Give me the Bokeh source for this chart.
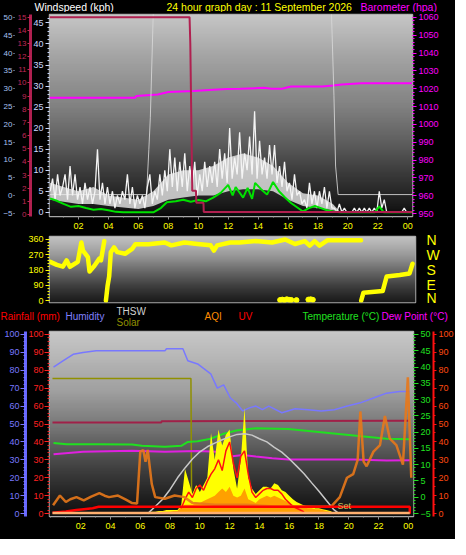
import numpy as np
from bokeh.plotting import figure
from bokeh.models import Range1d, LinearAxis, Label, FixedTicker
from bokeh.layouts import column, row
from bokeh.embed import file_html
from bokeh.resources import INLINE

FONT = "Liberation Sans"
NAN = float("nan")

# ---------------- data ----------------
hour_ticks = [2, 4, 6, 8, 10, 12, 14, 16, 18, 20, 22, 24]
hour_labels = ["02", "04", "06", "08", "10", "12", "14", "16", "18", "20", "22", "00"]

# wind gusts, one value every 10 minutes starting 00:06
gust_kph = [5, 8, 3, 9, 4, 6,   9, 3, 11, 4, 9, 3,   6, 2, 7, 3, 6, 2,   5, 15, 3, 7, 2, 6,
            2, 5, 1, 4, 2, 5,   3, 9, 2, 6, 1, 4,    2, 4, 1, 6, 9, 2,   5, 3, 9, 4, 10, 5,
            15, 6, 13, 5, 12, 6, 14, 5, 11, 6, 12, 4, 9, 5, 12, 6, 11, 7, 12, 6, 15, 8, 14, 7,
            20, 8, 13, 9, 19, 8, 14, 10, 18, 9, 24, 8, 17, 9, 13, 8, 16, 9, 16, 7, 11, 6, 12, 5,
            7, 3, 9, 4, 5, 2,   3, 1, 7, 2, 5, 1,    5, 2, 6, 1, 5, 1,   1, 0, 2, 0, 1, 0,
            0, 0, 1, 0, 1, 0,   1, 0, 1, 0, 1, 0,    5, 1, 3, 0, 0, 0,   0, 0, 0, 0, 1, 0]
gust_t = 0.1 + np.arange(len(gust_kph)) / 6.0

# dense band of the gust trace (lower / upper envelope)
band_t = [0.1, 1, 2, 3, 4, 6, 7, 8, 9, 10, 11, 12, 13, 14, 15, 16, 17, 18, 19, 19.5, 24.3]
band_lo = [3, 2.5, 2, 2, 1.5, 0.8, 1.5, 3, 3.5, 4, 4, 5, 5.5, 5.5, 5, 3, 1.5, 1, 0.5, 0, 0]
band_hi = [7, 6, 5, 6, 4, 3, 5, 9, 10, 10, 11, 13, 14, 13, 11, 7, 4.5, 4, 2, 0, 0]

avg_t = [0.1, 0.5, 1.0, 1.5, 2.0, 2.5, 3.0, 3.5, 4.0, 4.5, 5.0, 7.0, 7.5, 7.9, 8.5, 9.0, 9.5, 10.0,
         10.5, 11.0, 11.5, 12.0, 12.3, 12.5, 13.0, 13.3, 13.6, 13.8, 14.2, 14.6, 15.0, 15.4, 15.8,
         16.2, 16.6, 17.0, 17.4, 17.8, 18.2, 18.6, 19.0, 19.5, 21.8, 22.1, 22.4, 24.3]
avg_kph = [3.3, 2.8, 2.0, 1.3, 1.5, 1.0, 0.6, 0.8, 0.5, 0.1, 0.0, 0.0, 1.0, 2.4, 2.6, 3.0, 2.5, 2.9,
           2.6, 3.5, 4.6, 6.5, 4.0, 6.0, 3.5, 5.8, 3.2, 7.0, 5.5, 4.2, 7.2, 5.0, 3.5,
           2.2, 1.2, 0.2, 1.0, 1.5, 1.0, 0.5, 0.2, 0.0, 0.0, 1.4, 0.0, 0.0]

baro_t = [0.06, 5.8, 5.85, 7.3, 8.0, 9.7, 11.0, 11.9, 12.8, 14.4, 14.9, 15.6, 16.2, 18.3, 19.0, 19.6, 20.9, 24.3]
baro_hpa = [1015.0, 1015.0, 1015.9, 1016.8, 1018.2, 1018.7, 1019.4, 1019.8, 1020.0, 1020.5, 1020.0,
            1020.0, 1021.2, 1021.2, 1021.8, 1022.4, 1023.1, 1023.1]

peak_t = [0.06, 9.42, 9.47, 9.6, 9.85, 9.87, 10.35, 10.37, 24.3]
peak_bft = [15, 15, 13, 1.8, 1.8, 0.9, 0.9, 0.2, 0.2]

aux_t = [0.06, 6.55, 6.7, 6.8, 7.0, 18.9, 19.07, 19.18, 19.35, 24.3]
aux_v = [0.3, 0.3, 13, 22, 52, 52, 28, 8.3, 0.3, 0.3]

dir_t = [-0.05, 0.4, 0.8, 1.05, 1.27, 1.8, 2.04, 2.15, 2.48, 2.59, 2.92, 3.25, 3.36, 3.58, NAN,
         3.69, 3.8, 3.91, 4.02, 4.24, 4.46, 5.0, 5.45, 5.67, 6.55, 7.65, 8.09, 8.97, 9.85, 10.73,
         10.95, 11.17, 12.05, 12.66, 13.76, 14.86, 15.74, 16.4, 17.06, 17.39, 17.72, 18.05, 18.6,
         20.84, NAN, 20.85, 21.0, 22.3, 22.56, 23.44, 24.1, 24.3]
dir_deg = [228, 210, 200, 237, 199, 228, 342, 294, 256, 171, 205, 247, 237, 350, NAN,
           0, 85, 142, 285, 313, 285, 276, 304, 332, 332, 342, 325, 342, 333, 325,
           294, 325, 342, 342, 350, 342, 359, 333, 350, 323, 350, 323, 355,
           355, NAN, 0, 47, 57, 142, 151, 160, 217]
calm_t = [15.4, 15.55, 15.7, 15.85, 16.0, 16.15, 16.5, 17.3, 17.45, 17.6]
calm_deg = [4, 6, 3, 8, 5, 4, 3, 6, 8, 5]
compass = {0: "N", 90: "E", 180: "S", 270: "W", 360: "N"}

hum_t = [0.17, 0.83, 1.49, 2.15, 3.03, 5.0, 7.65, 7.76, 8.86, 9.19, 9.85, 10.73, 11.17, 11.6, 12.05,
         12.44, 12.88, 13.32, 13.76, 14.2, 14.63, 15.51, 16.4, 17.27, 18.15, 19.03, 19.9, 20.78,
         21.66, 22.54, 23.42, 24.1]
hum_pct = [81.7, 85.3, 88.9, 89.9, 90.8, 90.8, 90.8, 92.0, 92.0, 85.3, 83.5, 78.0, 70.0, 71.8, 64.5,
           61.8, 57.3, 59.0, 60.0, 58.0, 60.0, 56.3, 58.5, 58.0, 57.3, 58.0, 60.0, 61.8,
           64.5, 67.2, 68.1, 68.1]

temp_t = [0.17, 1.05, 3.25, 5.45, 6.1, 7.65, 8.75, 9.19, 9.85, 10.73, 11.6, 12.05, 12.44, 13.76,
          15.95, 18.15, 20.35, 22.55, 24.1]
temp_c = [16.7, 16.3, 16.3, 16.2, 15.8, 15.5, 15.8, 17.0, 17.2, 18.0, 19.5, 20.0, 20.5, 21.2,
          21.0, 20.0, 19.0, 18.0, 17.8]

dew_t = [0.17, 2.15, 5.45, 7.65, 9.85, 11.17, 11.56, 12.05, 12.88, 13.76, 14.86, 15.95, 18.15,
         20.35, 22.55, 24.1]
dew_c = [13.2, 14.0, 14.3, 14.0, 14.2, 14.0, 13.5, 12.5, 13.0, 12.5, 12.0, 11.6, 11.6,
         11.6, 11.3, 11.4]

rain_t = [0.1, 7.4, 7.45, 24.1]
rain_mm = [50.9, 50.9, 51.6, 51.8]

solar_max_t = [0.1, 9.4, 9.45]
solar_max = [75.4, 75.4, 0.0]

sun_t = np.arange(6.5, 19.51, 0.25)
solar_rad = [0, 1, 1, 1.5, 1.5, 2, 2, 2, 2,
             5, 25, 18, 11, 16, 12, 16, 20, 45, 30, 47, 38, 44, 47, 25, 14,
             30, 59, 20, 14, 11, 13, 15, 15, 14, 17, 16, 13, 12, 10, 8, 6.5,
             5.5, 4.5, 4, 3.5, 3, 3, 2.5, 2, 1.5, 0.5, 0.5, 0]
solar_base = [0, 0.5, 0.5, 0.5, 1, 1, 1, 1.5, 1.5,
              4, 5, 5, 5, 6, 6, 7, 8, 9, 10, 12, 14, 12, 15, 10, 9,
              10, 14, 8, 7, 6, 8, 9, 10, 9, 10, 9, 8, 7, 6, 5, 4,
              4, 3.5, 3, 3, 2.5, 2.5, 2, 1.5, 1, 0.5, 0, 0]
uv_spike = [NAN, NAN, NAN, NAN, NAN, NAN, NAN, NAN, NAN,
            3, 8, 12, 9, 14, 16, 13, 18, 22, 25, 30, 24, 35, 40, 28, 20,
            32, 35, 22, 12, 9, 11, 13, 14, 14, 13, 13, 11, 8, 6, 4, 3,
            2, 1, NAN, NAN, NAN, NAN, NAN, NAN, NAN, NAN, NAN, NAN]

theo_t = [6.5, 7, 7.5, 8, 8.5, 9, 9.5, 10, 10.5, 11, 11.5, 12, 12.5, 13, 13.5, 14, 14.5, 15, 15.5,
          16, 16.5, 17, 17.5, 18, 18.5, 19, 19.35]
theo_v = [0, 4, 8, 13.5, 20, 25.5, 30.5, 34.5, 37.3, 39.3, 41.2, 42.8, 44.2, 44.6, 43.8, 41.8, 40,
          37, 34.3, 30.6, 26.5, 22.3, 17.3, 12.5, 7.3, 2.2, 0]

aqi_t = [0.14, 0.6, 1.0, 1.3, 1.71, 2.2, 2.7, 3.25, 3.6, 3.9, 4.5, 5.0, 5.45, 5.78, 6.0, 6.2, 6.35,
         6.5, 6.77, 7.0, 7.65, 8.3, 8.97, 9.5, 11.0, 13.0, 15.0, 17.0, 17.7, 18.8, 19.4, 19.88,
         20.3, 20.6, 20.78, 21.0, 21.2, 21.66, 22.1, 22.43, 22.76, 23.2, 23.64, 23.97, 24.2]
aqi_v = [4.7, 10.1, 6.5, 8.0, 9.2, 7.4, 9.5, 11.4, 10.0, 9.2, 10.1, 8.0, 5.9, 5.6, 34.6, 35.5, 29.0,
         35.5, 16.5, 9.2, 8.3, 10.1, 9.2, 6.0, 5.0, 5.0, 4.0, 4.0, 3.8, 3.8, 9.2, 20.0,
         22.0, 30.0, 57.0, 29.0, 26.4, 34.6, 38.2, 54.5, 41.8, 38.2, 27.3, 76.0, 20.0]

uv_t = [0.1, 1.0, 1.7, 2.2, 2.8, 3.2, 24.1, 24.1]
uv_v = [0.5, 1.2, 2.0, 2.5, 3.0, 3.8, 3.8, 0.0]

floor_t = [0.1, 24.1]
floor_v = [0.3, 0.3]

sunset_t = 19.25


# ---------------- helpers ----------------
def make_fig(fw, fh, left, right, top, bottom, xr, yr):
    p = figure(frame_width=fw, frame_height=fh, min_border_left=left, min_border_right=right,
               min_border_top=top, min_border_bottom=bottom, x_range=xr, y_range=yr,
               output_backend="svg", toolbar_location=None, tools="",
               background_fill_color="black", border_fill_color="black",
               outline_line_color="#a8a8a8", outline_line_width=1.5)
    return p


def header_fig(h):
    p = figure(frame_width=450, frame_height=h, min_border=0,
               x_range=Range1d(0, 450), y_range=Range1d(0, h),
               x_axis_location=None, y_axis_location=None, output_backend="svg",
               toolbar_location=None, tools="", background_fill_color="black",
               border_fill_color="black", outline_line_color=None)
    p.grid.visible = False
    return p


def add_gradient(p, xr, yr, fs, gs):
    f = np.linspace(0, 1, 120)
    g = np.interp(f, fs, gs).astype(np.uint32)
    img = (np.uint32(255) << np.uint32(24)) | (g << np.uint32(16)) | (g << np.uint32(8)) | g
    img = img.reshape(120, 1)
    p.image_rgba(image=[img], x=xr.start, y=yr.start, dw=xr.end - xr.start, dh=yr.end - yr.start)


def style_axis(ax, color, size="9px", tick_out=4, minor_out=2, standoff=2,
               line_color=None, line_width=1, tick_color=None):
    ax.major_label_text_color = color
    ax.major_label_text_font = FONT
    ax.major_label_text_font_size = size
    ax.major_tick_line_color = tick_color or color
    ax.minor_tick_line_color = tick_color or color
    ax.major_tick_out = tick_out
    ax.major_tick_in = 0
    ax.minor_tick_out = minor_out
    ax.minor_tick_in = 0
    ax.major_label_standoff = standoff
    ax.axis_line_color = line_color
    ax.axis_line_width = line_width


def add_text(p, x, y, text, color, size="10px"):
    p.add_layout(Label(x=x, y=y, text=text, text_color=color, text_font=FONT,
                       text_font_size=size, text_baseline="middle", text_align="left"))


def hour_axis(ax):
    ax.ticker = FixedTicker(ticks=hour_ticks, minor_ticks=list(range(0, 25)))
    ax.major_label_overrides = {t: s for t, s in zip(hour_ticks, hour_labels)}
    style_axis(ax, "#ffff00", tick_out=3, minor_out=1, standoff=3,
               line_color="#a8a8a8", tick_color="#909090")


# ---------------- header of top panel ----------------
h1 = header_fig(12)
add_text(h1, 34, 6, "Windspeed (kph)", "#ffffff", "10.5px")
add_text(h1, 166, 6, "24 hour graph day : 11 September 2026", "#ffff00", "10.5px")
add_text(h1, 360, 6, "Barometer (hpa)", "#ff00ff", "10.5px")

# ---------------- top panel: wind & barometer ----------------
x1 = Range1d(0.06, 24.32)
y1 = Range1d(-1, 47)
p1 = make_fig(363, 202, 41, 38, 2, 15, x1, y1)
p1.extra_y_ranges = {"baro": Range1d(948.4, 1061.6), "bft": Range1d(-0.15, 15.2),
                     "alt": Range1d(-5.85, 50.8)}
add_gradient(p1, x1, y1, [0, 0.05, 0.22, 0.37, 0.55, 0.8, 1], [10, 25, 60, 95, 130, 165, 198])

ax_w = p1.yaxis[0]
ax_w.ticker = FixedTicker(ticks=list(range(0, 46, 5)), minor_ticks=list(range(0, 47)))
style_axis(ax_w, "#c8d8ff", tick_out=4, minor_out=2, standoff=2)
ax_b = LinearAxis(y_range_name="bft", ticker=FixedTicker(ticks=list(range(0, 16))))
style_axis(ax_b, "#c02858", size="8px", tick_out=3, minor_out=0, standoff=1,
           line_color="#b02050", line_width=3)
p1.add_layout(ax_b, "left")
ax_a = LinearAxis(y_range_name="alt", ticker=FixedTicker(ticks=list(range(-5, 51, 5))))
style_axis(ax_a, "#a8c0f0", size="8px", tick_out=1, minor_out=0, standoff=1)
p1.add_layout(ax_a, "left")
ax_p = LinearAxis(y_range_name="baro",
                  ticker=FixedTicker(ticks=list(range(950, 1061, 10)), minor_ticks=list(range(950, 1062, 2))))
style_axis(ax_p, "#ff00ff", tick_out=4, minor_out=2, standoff=2)
p1.add_layout(ax_p, "right")
hour_axis(p1.xaxis[0])
p1.xgrid.grid_line_color = "#e8e8e8"
p1.xgrid.grid_line_alpha = 0.5
p1.xgrid.grid_line_dash = "1 2"
p1.ygrid.grid_line_color = "#ffffff"
p1.ygrid.grid_line_alpha = 0.2

p1.line(baro_t, baro_hpa, y_range_name="baro", line_color="#ff00ff", line_width=2)
p1.line(aux_t, aux_v, y_range_name="alt", line_color="#d8d8d8", line_width=1, line_alpha=0.85)
p1.varea(x=band_t, y1=band_lo, y2=band_hi, fill_color="#e8e8e8", fill_alpha=0.8)
p1.line(gust_t, gust_kph, line_color="#f4f4f4", line_width=1.3)
p1.line(avg_t, avg_kph, line_color="#00e000", line_width=2)
p1.line(peak_t, peak_bft, y_range_name="bft", line_color="#b02050", line_width=2)

# ---------------- middle panel: wind direction ----------------
x2 = Range1d(-0.1, 24.5)
y2 = Range1d(-11, 377)
p2 = make_fig(366, 66, 41, 38, 5, 3, x2, y2)
add_gradient(p2, x2, y2, [0, 0.2, 0.45, 0.7, 1], [25, 55, 100, 150, 195])
ax_d = p2.yaxis[0]
ax_d.ticker = FixedTicker(ticks=[0, 90, 180, 270, 360], minor_ticks=list(range(0, 361, 18)))
style_axis(ax_d, "#ffff00", tick_out=4, minor_out=2, standoff=2)
ax_c = LinearAxis(ticker=FixedTicker(ticks=[0, 90, 180, 270, 360]))
ax_c.major_label_overrides = compass
style_axis(ax_c, "#ffff00", size="14px", tick_out=0, minor_out=0, standoff=11)
ax_c.major_tick_line_color = None
ax_c.minor_tick_line_color = None
p2.add_layout(ax_c, "right")
p2.xaxis.visible = False
p2.grid.visible = False
p2.line(dir_t, dir_deg, line_color="#ffff00", line_width=4.5, line_cap="round", line_join="round")
p2.scatter(calm_t, calm_deg, size=5, color="#ffff00")

# ---------------- header of bottom panel ----------------
h3 = header_fig(22)
add_text(h3, 0, 11, "Rainfall (mm)", "#ff0000")
add_text(h3, 65, 11, "Humidity", "#8080ff")
add_text(h3, 116, 16, "THSW", "#d0d0d0")
add_text(h3, 116, 5.5, "Solar", "#909000")
add_text(h3, 204, 11, "AQI", "#ff8c00")
add_text(h3, 238, 11, "UV", "#ff0000")
add_text(h3, 302, 11, "Temperature (°C)", "#20e020")
add_text(h3, 381, 11, "Dew Point (°C)", "#ff00ff")

# ---------------- bottom panel ----------------
x3 = Range1d(-0.1, 24.35)
y3 = Range1d(-1.6, 101.6)
p3 = make_fig(364, 185, 41, 38, 4, 23, x3, y3)
p3.extra_y_ranges = {"temp": Range1d(-5.9, 50.9), "pct": Range1d(-1.6, 101.6)}
add_gradient(p3, x3, y3, [0, 0.1, 0.26, 0.47, 0.68, 1], [15, 32, 64, 115, 160, 200])

ax_r = p3.yaxis[0]
ax_r.ticker = FixedTicker(ticks=list(range(0, 101, 10)), minor_ticks=list(range(0, 101, 2)))
style_axis(ax_r, "#ff2020", tick_out=5, minor_out=2, standoff=1)
ax_h = LinearAxis(y_range_name="pct",
                  ticker=FixedTicker(ticks=list(range(0, 101, 10)), minor_ticks=list(range(0, 101, 2))))
style_axis(ax_h, "#7878ff", tick_out=5, minor_out=2, standoff=1, line_color="#6868ff", line_width=3)
p3.add_layout(ax_h, "left")
ax_t = LinearAxis(y_range_name="temp",
                  ticker=FixedTicker(ticks=list(range(-5, 51, 5)), minor_ticks=list(range(-5, 51, 1))))
style_axis(ax_t, "#20e020", tick_out=5, minor_out=2, standoff=2)
p3.add_layout(ax_t, "right")
ax_q = LinearAxis(y_range_name="pct",
                  ticker=FixedTicker(ticks=list(range(0, 101, 10)), minor_ticks=list(range(0, 101, 5))))
style_axis(ax_q, "#ff4a10", tick_out=3, minor_out=2, standoff=2, line_color="#ff1010", line_width=2,
           tick_color="#ff1010")
p3.add_layout(ax_q, "right")
hour_axis(p3.xaxis[0])
p3.xgrid.grid_line_color = "#e8e8e8"
p3.xgrid.grid_line_alpha = 0.45
p3.xgrid.grid_line_dash = "1 2"
p3.ygrid.grid_line_color = "#ffffff"
p3.ygrid.grid_line_alpha = 0.18

p3.line(rain_t, rain_mm, line_color="#a02048", line_width=2)
p3.line(solar_max_t, solar_max, line_color="#909000", line_width=1.5)
p3.line(hum_t, hum_pct, line_color="#7878ff", line_width=1.5)
p3.line(temp_t, temp_c, y_range_name="temp", line_color="#20e020", line_width=2)
p3.line(dew_t, dew_c, y_range_name="temp", line_color="#e020e0", line_width=2)
p3.varea(x=sun_t, y1=0, y2=solar_rad, fill_color="#ffff00")
p3.varea(x=sun_t, y1=0, y2=solar_base, fill_color="#ffa000")
p3.line(sun_t, uv_spike, line_color="#ff1010", line_width=1.5)
p3.line(theo_t, theo_v, line_color="#c8c8c8", line_width=1.5)
p3.line(aqi_t, aqi_v, line_color="#e8781a", line_width=2.5, line_alpha=0.9)
p3.line(uv_t, uv_v, line_color="#ff0000", line_width=2.5)
p3.line(floor_t, floor_v, line_color="#ffb070", line_width=2.5)
p3.add_layout(Label(x=sunset_t, y=1.2, text="Set", text_color="#c0c060", text_font=FONT,
                    text_font_size="9px", text_baseline="bottom"))

p = column(row(h1), p1, p2, row(h3), p3, spacing=0, styles={"background-color": "black"})

open("out.html", "w").write(file_html(p, INLINE))
